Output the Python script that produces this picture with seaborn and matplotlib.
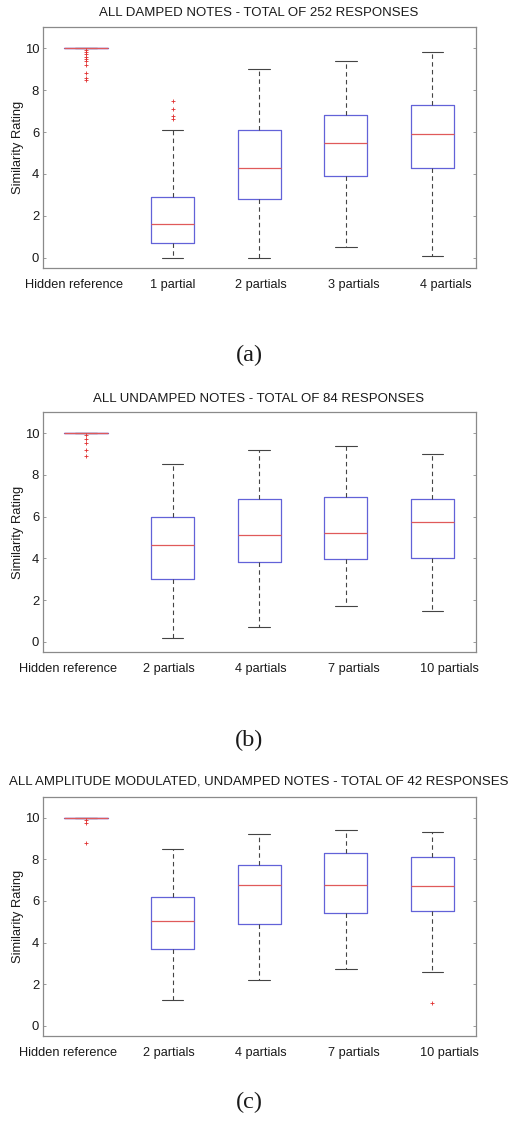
import numpy as np
import pandas as pd
import matplotlib
matplotlib.use("Agg")
import matplotlib.pyplot as plt
import matplotlib.transforms as mtransforms
import seaborn as sns

# ---------------- data (five-number summaries) ----------------
titles = [
    "ALL DAMPED NOTES - TOTAL OF 252 RESPONSES",
    "ALL UNDAMPED NOTES - TOTAL OF 84 RESPONSES",
    "ALL AMPLITUDE MODULATED, UNDAMPED NOTES - TOTAL OF 42 RESPONSES",
]
captions = ["(a)", "(b)", "(c)"]

cats_a = ["Hidden reference", "1 partial", "2 partials", "3 partials", "4 partials"]
low_a = [10.0, 0.0, 0.0, 0.5, 0.1]
q1_a = [10.0, 0.7, 2.8, 3.9, 4.3]
med_a = [10.0, 1.6, 4.3, 5.5, 5.93]
q3_a = [10.0, 2.9, 6.12, 6.8, 7.3]
high_a = [10.0, 6.12, 9.0, 9.4, 9.8]
out_cat_a = ["Hidden reference"] * 10 + ["1 partial"] * 4
out_val_a = [9.92, 9.81, 9.71, 9.6, 9.5, 9.4, 9.2, 8.84, 8.58, 8.5,
             7.5, 7.1, 6.75, 6.62]

cats_b = ["Hidden reference", "2 partials", "4 partials", "7 partials", "10 partials"]
low_b = [10.0, 0.2, 0.7, 1.7, 1.5]
q1_b = [10.0, 3.0, 3.85, 3.95, 4.0]
med_b = [10.0, 4.63, 5.1, 5.24, 5.76]
q3_b = [10.0, 5.96, 6.86, 6.96, 6.86]
high_b = [10.0, 8.5, 9.2, 9.4, 9.0]
out_cat_b = ["Hidden reference"] * 5
out_val_b = [9.9, 9.7, 9.55, 9.2, 8.9]

cats_c = ["Hidden reference", "2 partials", "4 partials", "7 partials", "10 partials"]
low_c = [10.0, 1.23, 2.2, 2.71, 2.61]
q1_c = [10.0, 3.71, 4.9, 5.4, 5.51]
med_c = [10.0, 5.05, 6.77, 6.77, 6.72]
q3_c = [10.0, 6.19, 7.71, 8.3, 8.09]
high_c = [10.0, 8.49, 9.2, 9.39, 9.3]
out_cat_c = ["Hidden reference"] * 3 + ["10 partials"]
out_val_c = [9.87, 9.76, 8.8, 1.1]

yticks = [0, 2, 4, 6, 8, 10]

panels = [
    (cats_a, low_a, q1_a, med_a, q3_a, high_a, out_cat_a, out_val_a),
    (cats_b, low_b, q1_b, med_b, q3_b, high_b, out_cat_b, out_val_b),
    (cats_c, low_c, q1_c, med_c, q3_c, high_c, out_cat_c, out_val_c),
]

# ---------------- style ----------------
sns.set_theme(style="white")
plt.rcParams["font.family"] = ["Liberation Sans", "DejaVu Sans"]

W, H = 509, 1135
fig = plt.figure(figsize=(W / 100, H / 100), dpi=100)

# axes boxes in pixels: (left, top, right, bottom)
ax_px = [(42.7, 27.3, 475.7, 268.3), (42.7, 412.3, 475.7, 652.3), (42.7, 796.7, 475.7, 1036.3)]
title_y = [13.5, 398.5, 782]
caption_y = [355.5, 740, 1102]
# horizontal shift (pixels) of each x tick label relative to its box centre
label_dx = [
    [-11.5, 0.3, 1.7, 7.8, 13.2],
    [-18.2, -4.0, 1.7, 7.6, 16.7],
    [-18.2, -4.0, 1.7, 7.6, 16.7],
]

BOX = "#6262d8"
MED = "#e05a5a"
WHK = "#444444"
SPINE = "#8a8a8a"
TXT = "#1a1a1a"

for i, (cats, lo, q1, md, q3, hi, oc, ov) in enumerate(panels):
    l, t, r, b = ax_px[i]
    ax = fig.add_axes([l / W, 1 - b / H, (r - l) / W, (b - t) / H])
    rows = []
    for j, c in enumerate(cats):
        for v in (lo[j], q1[j], md[j], q3[j], hi[j]):
            rows.append((c, v))
    df = pd.DataFrame(rows, columns=["cat", "val"])
    sns.boxplot(
        data=df, x="cat", y="val", order=cats, ax=ax,
        whis=(0, 100), width=0.5, fill=False, showfliers=False,
        boxprops=dict(color=BOX, linewidth=0.9),
        medianprops=dict(color=MED, linewidth=0.9),
        whiskerprops=dict(color=WHK, linewidth=0.8, linestyle=(0, (4, 3))),
        capprops=dict(color=WHK, linewidth=0.8),
    )
    odf = pd.DataFrame({"cat": oc, "val": ov})
    sns.stripplot(
        data=odf, x="cat", y="val", order=cats, ax=ax, jitter=False,
        marker="+", color="#e03030", size=3.0, linewidth=0.6,
    )
    ax.set_xlim(-0.5, len(cats) - 0.5)
    ax.set_ylim(-0.5, 11)
    ax.set_yticks(yticks)
    ax.set_yticklabels([str(v) for v in yticks])
    ax.set_xlabel("")
    ax.set_ylabel("Similarity Rating", fontsize=9.3, color=TXT, labelpad=0.5)
    ax.tick_params(axis="y", direction="in", length=2.5, width=0.6, color=SPINE,
                   left=True, right=True, labelsize=9.4, labelcolor=TXT, pad=2.5)
    ax.tick_params(axis="x", length=0, labelsize=9.2, labelcolor=TXT, pad=7.5)
    for lab, dx in zip(ax.get_xticklabels(), label_dx[i]):
        lab.set_transform(lab.get_transform() +
                          mtransforms.ScaledTranslation(dx / 100, 0, fig.dpi_scale_trans))
    for s in ax.spines.values():
        s.set_color(SPINE)
        s.set_linewidth(0.9)
    fig.text(258.5 / W, 1 - title_y[i] / H, titles[i],
             ha="center", va="center", fontsize=9.5, color=TXT)
    fig.text(249 / W, 1 - caption_y[i] / H, captions[i],
             ha="center", va="center", fontsize=17.5, color=TXT,
             family=["Liberation Serif", "DejaVu Serif"])

fig.savefig("out.png", dpi=100)
